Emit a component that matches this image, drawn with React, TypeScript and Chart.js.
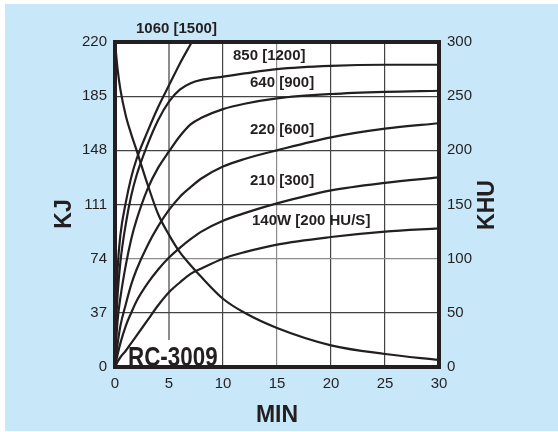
import React, { useEffect, useRef } from "react";
import { Chart, registerables } from "chart.js";

Chart.register(...registerables);

// Time axis (minutes)
const minutes = [0, 0.1, 0.25, 0.5, 1, 1.5, 2, 3, 4, 5, 6, 7, 8, 10, 12, 15, 20, 25, 30];

// Heat content curves (KHU)
const cooling = [300, 289, 274, 256, 232, 215, 200, 169, 141, 122, 106, 94, 83, 63, 50, 36, 20, 12, 6.5];
const heat1060 = [0, 55, 92, 122, 152, 175, 192, 217, 240, 260, 280, 298, 316, null, null, null, null, null, null];
const heat850 = [0, 38, 68, 97, 132, 158, 177, 205, 228, 245, 256, 262, 265, 268, 271, 275, 278, 279, 279];
const heat640 = [0, 22, 44, 64, 94, 118, 136, 164, 184, 199, 213, 224, 230, 238, 243, 248, 252, 254, 255];
const heat220 = [0, 10, 22, 38, 58, 76, 90, 112, 130, 145, 157, 166, 174, 185, 192, 200, 212, 220, 225];
const heat210 = [0, 5, 12, 22, 38, 50, 61, 77, 90, 101, 110, 118, 125, 135, 142, 151, 163, 170, 175];
const heat140 = [0, 2, 5, 9, 15, 22, 29, 43, 57, 69, 78, 86, 91, 100, 106, 113, 120, 125, 128];

const kjTickLabels = ["0", "37", "74", "111", "148", "185", "220"];
const khuTickLabels = ["0", "50", "100", "150", "200", "250", "300"];
const curveLabels = ["1060 [1500]", "850 [1200]", "640 [900]", "220 [600]", "210 [300]", "140W [200 HU/S]"];
const modelLabel = "RC-3009";
const xTitle = "MIN";
const leftTitle = "KJ";
const rightTitle = "KHU";

const INK = "#231f20";
const BLUE = "#c8e7f8";
const FONT = "'Liberation Sans', Arial, sans-serif";

function toPoints(vals: (number | null)[]) {
  return minutes.map((m, i) => ({ x: m, y: vals[i] }));
}

const decorPlugin = {
  id: "decor",
  beforeDraw(chart: any) {
    const ctx = chart.ctx;
    const { width, height } = chart;
    ctx.save();
    ctx.fillStyle = "#ffffff";
    ctx.fillRect(0, 0, width, height);
    ctx.fillStyle = BLUE;
    ctx.fillRect(5, 4, width - 5, height - 5);
    const a = chart.chartArea;
    ctx.fillStyle = "#ffffff";
    ctx.fillRect(a.left, a.top, a.right - a.left, a.bottom - a.top);
    ctx.restore();
  },
  beforeDatasetsDraw(chart: any) {
    const ctx = chart.ctx;
    const a = chart.chartArea;
    ctx.save();
    ctx.fillStyle = "#ffffff";
    ctx.fillRect(a.left + 11, a.bottom - 27, 94, 26);
    ctx.fillStyle = INK;
    ctx.font = `bold 28px ${FONT}`;
    ctx.textBaseline = "alphabetic";
    ctx.translate(a.left + 13, a.bottom - 1);
    ctx.scale(0.8, 1);
    ctx.fillText(modelLabel, 0, 0);
    ctx.restore();
  },
  afterDatasetsDraw(chart: any) {
    const ctx = chart.ctx;
    const a = chart.chartArea;
    ctx.save();
    // frame
    ctx.strokeStyle = INK;
    ctx.lineWidth = 4;
    ctx.strokeRect(a.left, a.top, a.right - a.left, a.bottom - a.top);

    // curve labels
    ctx.fillStyle = INK;
    ctx.font = `bold 15px ${FONT}`;
    ctx.textBaseline = "middle";
    ctx.textAlign = "left";
    const pos = [
      [136, 29],
      [233, 56],
      [250, 83],
      [250, 130],
      [250, 181],
      [252, 221],
    ];
    curveLabels.forEach((t, i) => ctx.fillText(t, pos[i][0], pos[i][1]));

    // axis titles
    ctx.font = `bold 23px ${FONT}`;
    ctx.textAlign = "center";
    ctx.textBaseline = "middle";
    ctx.fillText(xTitle, (a.left + a.right) / 2, 416);

    ctx.save();
    ctx.translate(65, 214);
    ctx.rotate(-Math.PI / 2);
    ctx.fillText(leftTitle, 0, 0);
    ctx.restore();

    ctx.save();
    ctx.translate(488, 205);
    ctx.rotate(-Math.PI / 2);
    ctx.fillText(rightTitle, 0, 0);
    ctx.restore();

    ctx.restore();
  },
};

export default function App() {
  const ref = useRef<HTMLCanvasElement | null>(null);

  useEffect(() => {
    if (!ref.current) return;
    const series = [cooling, heat1060, heat850, heat640, heat220, heat210, heat140];
    const chart = new Chart(ref.current, {
      type: "line",
      data: {
        datasets: series.map((s) => ({
          data: toPoints(s),
          borderColor: INK,
          borderWidth: 2.2,
          pointRadius: 0,
          fill: false,
          cubicInterpolationMode: "monotone" as const,
          spanGaps: false,
          yAxisID: "y",
        })),
      },
      options: {
        responsive: false,
        animation: false,
        devicePixelRatio: 1,
        layout: { padding: { top: 42, left: 0, right: 0, bottom: 0 } },
        plugins: { legend: { display: false }, tooltip: { enabled: false }, title: { display: false } },
        scales: {
          x: {
            type: "linear",
            min: 0,
            max: 30,
            ticks: {
              stepSize: 5,
              padding: 8,
              color: INK,
              font: { family: FONT, size: 15 },
              maxRotation: 0,
            },
            grid: {
              drawTicks: false,
              color: (c: any) => (c.tick && (c.tick.value === 5 || c.tick.value === 15) ? "#8c8c8c" : "#444"),
              lineWidth: (c: any) => (c.tick && c.tick.value === 5 ? 2 : 1.2),
            },
            border: { display: false },
            afterFit: (s: any) => {
              s.height = 65;
            },
          },
          y: {
            type: "linear",
            position: "left",
            min: 0,
            max: 300,
            ticks: {
              stepSize: 50,
              padding: 8,
              color: INK,
              font: { family: FONT, size: 15 },
              callback: (_v: any, i: number) => kjTickLabels[i],
            },
            grid: {
              drawTicks: false,
              color: (c: any) => (c.tick && c.tick.value === 100 ? "#8c8c8c" : "#444"),
              lineWidth: 1.2,
            },
            border: { display: false },
            afterFit: (s: any) => {
              s.width = 115;
            },
          },
          yR: {
            type: "linear",
            position: "right",
            min: 0,
            max: 300,
            ticks: {
              stepSize: 50,
              padding: 8,
              color: INK,
              font: { family: FONT, size: 15 },
              callback: (_v: any, i: number) => khuTickLabels[i],
            },
            grid: { display: false, drawTicks: false },
            border: { display: false },
            afterFit: (s: any) => {
              s.width = 119;
            },
          },
        },
      },
      plugins: [decorPlugin],
    });
    return () => chart.destroy();
  }, []);

  return (
    <div style={{ position: "fixed", left: 0, top: 0, width: 558, height: 432 }}>
      <canvas ref={ref} width={558} height={432} />
    </div>
  );
}
